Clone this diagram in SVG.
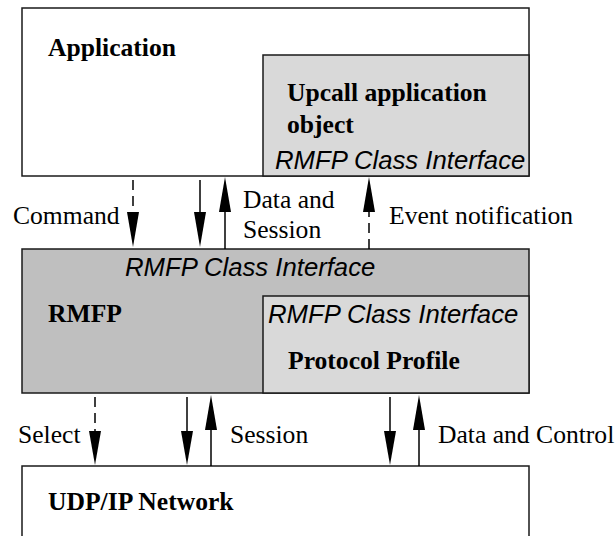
<svg xmlns="http://www.w3.org/2000/svg" width="615" height="536" viewBox="0 0 615 536">
<style>
.box{stroke:#1a1a1a;stroke-width:1.5}
.white{fill:#ffffff}
.mid{fill:#bfbfbf}
.light{fill:#d9d9d9}
.bold{font-family:"Liberation Serif",serif;font-weight:bold;font-size:25.6px;fill:#000}
.lbl{font-family:"Liberation Serif",serif;font-size:25.6px;fill:#000}
.ital{font-family:"Liberation Sans",sans-serif;font-style:italic;font-size:25.7px;fill:#000}
.ln{stroke:#000;stroke-width:1.5;fill:none}
.dash{stroke-dasharray:10 6}
.head{fill:#000}
</style>
<rect width="615" height="536" fill="#fff"/>
<g id="application">
<rect class="box white" x="22" y="8" width="507" height="168"/>
<text class="bold" x="48" y="56">Application</text>
</g>
<g id="upcall">
<rect class="box light" x="263" y="55" width="266" height="121"/>
<text class="bold" x="287" y="101">Upcall application</text>
<text class="bold" x="287" y="133">object</text>
<text class="ital" x="275" y="169">RMFP Class Interface</text>
</g>
<g id="rmfp">
<rect class="box mid" x="22" y="249" width="507" height="144"/>
<text class="ital" x="125" y="276">RMFP Class Interface</text>
<text class="bold" x="48" y="322">RMFP</text>
</g>
<g id="protocol">
<rect class="box light" x="263" y="296" width="266" height="97"/>
<text class="ital" x="268" y="323">RMFP Class Interface</text>
<text class="bold" x="288" y="369">Protocol Profile</text>
</g>
<g id="udp">
<path class="box white" d="M22,540 L22,466 L529,466 L529,540"/>
<text class="bold" x="48" y="510">UDP/IP Network</text>
</g>
<g id="connectors">
<path d="M133,180 L133,212" class="ln dash"/>
<path class="head" d="M127,212 L139,212 L133,247 Z"/>
<path d="M200,180 L200,212" class="ln"/>
<path class="head" d="M194,212 L206,212 L200,247 Z"/>
<path d="M225,249 L225,212" class="ln"/>
<path class="head" d="M219,212 L231,212 L225,177 Z"/>
<path d="M369,249 L369,212" class="ln dash"/>
<path class="head" d="M363,212 L375,212 L369,177 Z"/>
<path d="M95,397 L95,431" class="ln dash"/>
<path class="head" d="M89,431 L101,431 L95,465 Z"/>
<path d="M187,397 L187,431" class="ln"/>
<path class="head" d="M181,431 L193,431 L187,465 Z"/>
<path d="M211,466 L211,430" class="ln"/>
<path class="head" d="M205,430 L217,430 L211,395 Z"/>
<path d="M390,397 L390,431" class="ln"/>
<path class="head" d="M384,431 L396,431 L390,465 Z"/>
<path d="M419,466 L419,430" class="ln"/>
<path class="head" d="M413,430 L425,430 L419,395 Z"/>
<text class="lbl" x="13" y="224">Command</text>
<text class="lbl" x="243" y="208">Data and</text>
<text class="lbl" x="243" y="238">Session</text>
<text class="lbl" x="389" y="224">Event notification</text>
<text class="lbl" x="18" y="443">Select</text>
<text class="lbl" x="230" y="443">Session</text>
<text class="lbl" x="438" y="443">Data and Control</text>
</g>
</svg>
